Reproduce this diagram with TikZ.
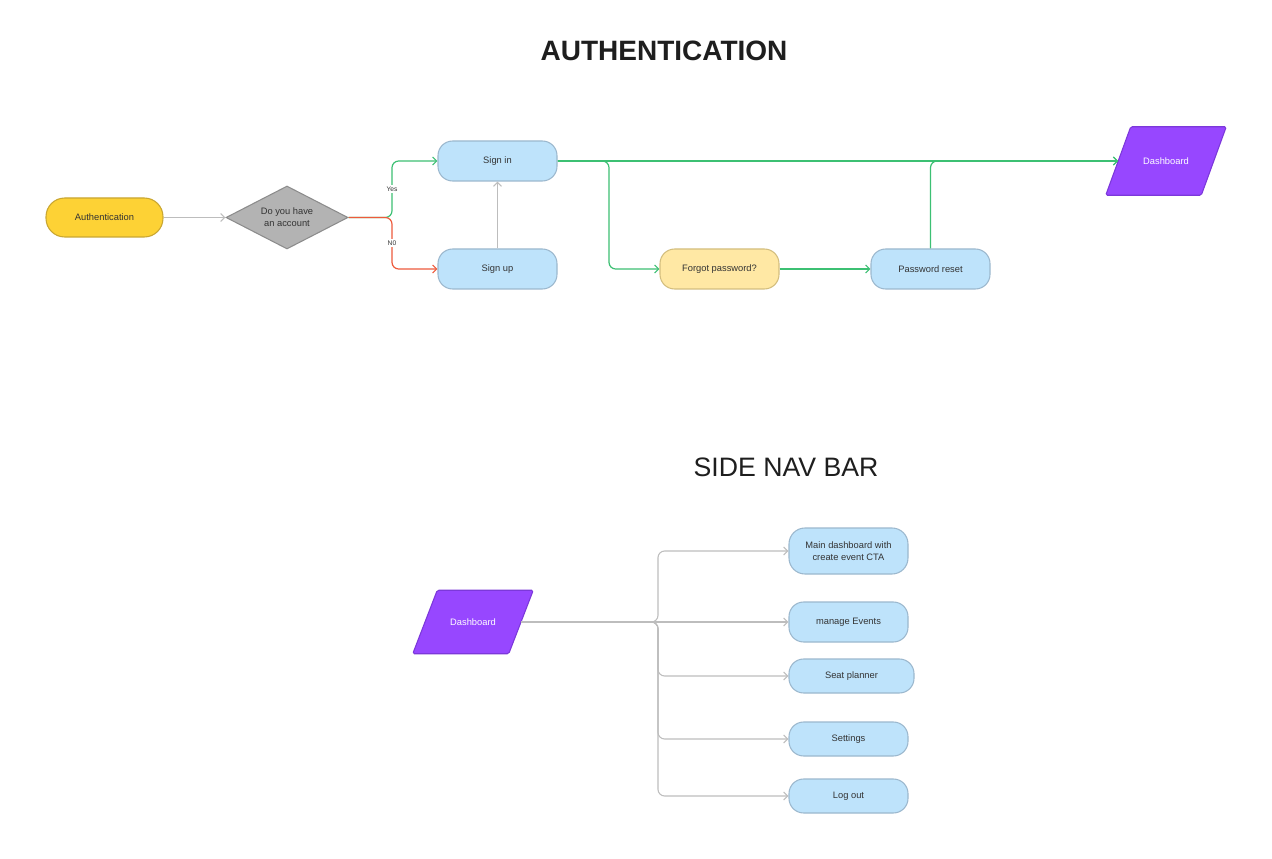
\documentclass[tikz,border=0pt]{standalone}
\usepackage{fontspec}
\setmainfont{Liberation Sans}
\usetikzlibrary{arrows.meta,shapes.geometric,calc}
\definecolor{authY}{HTML}{FDD235}
\definecolor{authYb}{HTML}{C9A631}
\definecolor{diaF}{HTML}{B3B3B3}
\definecolor{diaB}{HTML}{8C8C8C}
\definecolor{blueF}{HTML}{BEE3FB}
\definecolor{blueB}{HTML}{9CB8CE}
\definecolor{fpY}{HTML}{FFE8A4}
\definecolor{fpYb}{HTML}{D3BE7E}
\definecolor{purp}{HTML}{9747FF}
\definecolor{purpB}{HTML}{7C38DA}
\definecolor{lineG}{HTML}{3CC073}
\definecolor{lineR}{HTML}{EE5A3C}
\definecolor{lineGr}{HTML}{BDBDBD}
\definecolor{txt}{HTML}{333333}
\definecolor{ttl}{HTML}{1E1E1E}
\begin{document}
\begin{tikzpicture}[x=0.75pt,y=-0.75pt,
  >={Straight Barb[length=3pt,width=6pt]},
  box/.style={rectangle, rounded corners=11pt, draw=blueB, fill=blueF, line width=0.8pt,
    minimum width=89.25pt, minimum height=30pt, inner sep=2pt, text=txt, align=center,
    font=\fontsize{7}{9}\selectfont},
  pill/.style={box, rounded corners=14pt, fill=authY, draw=authYb},
  ask/.style={diamond, aspect=2, draw=diaB, fill=diaF, line width=0.8pt, inner sep=0pt,
    minimum width=91.5pt, minimum height=47.25pt, text=txt, align=center,
    font=\fontsize{7}{9}\selectfont},
  parabox/.style={rectangle, inner sep=0pt, minimum width=71.25pt, minimum height=51pt},
  parafill/.style={fill=purp, draw=purpB, line width=0.8pt, rounded corners=1.2pt},
  paratext/.style={text=white, font=\fontsize{7}{9}\selectfont},
  gline/.style={draw=lineG, line width=0.9pt, rounded corners=5pt},
  rline/.style={draw=lineR, line width=0.9pt, rounded corners=5pt},
  grline/.style={draw=lineGr, line width=0.8pt, rounded corners=5pt},
  lbl/.style={fill=white, inner sep=1pt, text=txt, font=\fontsize{5}{6}\selectfont},
]
\useasboundingbox[fill=white] (0,0) rectangle (1272,859);

% titles
\node[font=\bfseries\fontsize{21}{25}\selectfont, text=ttl] (t1) at (664,51) {AUTHENTICATION};
\node[font=\fontsize{20}{24}\selectfont, text=ttl] (t2) at (786,467) {SIDE NAV BAR};

% authentication flow
\node[pill, minimum width=87.75pt, minimum height=29.25pt] (auth) at (104.5,217.5) {Authentication};
\node[ask] (q) at (287,217.5) {Do you have\\an account};
\node[box] (signin) at (497.5,161) {Sign in};
\node[box] (signup) at (497.5,269) {Sign up};
\node[box, fill=fpY, draw=fpYb] (forgot) at (719.5,269) {Forgot password?};
\node[box] (reset) at (930.5,269) {Password reset};

\path node[parabox] (dash1) at (1166,161) {};
\draw[parafill] ($(dash1.north west)+(12.5,0)$) -- ($(dash1.north east)+(12.5,0)$)
  -- ($(dash1.south east)+(-12.5,0)$) -- ($(dash1.south west)+(-12.5,0)$) -- cycle;
\node[paratext] (dash1t) at (dash1) {Dashboard};

\coordinate (split) at (392,217.5);
\coordinate (fork) at (609,161);

\draw[grline,->] (auth.east) -- (q.west);
\draw[gline,->] (q.east) -- (split) |- (signin.west);
\draw[rline,->] (q.east) -- (split) |- (signup.west);
\node[lbl] (yes) at (392,189) {Yes};
\node[lbl] (no) at (392,243) {N0};
\draw[grline,->] (signup.north) -- (signin.south);
\draw[gline,->] (signin.east) -- (dash1.west);
\draw[gline,->] (signin.east) -- (fork) |- (forgot.west);
\draw[gline,->] (forgot.east) -- (reset.west);
\draw[gline,->] (reset.north) |- (dash1.west);

% side nav bar
\path node[parabox, minimum width=71.6pt, minimum height=47.25pt] (dash2) at (473,622) {};
\draw[parafill] ($(dash2.north west)+(12.25,0)$) -- ($(dash2.north east)+(12.25,0)$)
  -- ($(dash2.south east)+(-12.25,0)$) -- ($(dash2.south west)+(-12.25,0)$) -- cycle;
\node[paratext] (dash2t) at (dash2) {Dashboard};

\node[box, minimum height=34.5pt, rounded corners=12pt] (mdash) at (848.5,551) {Main dashboard with\\create event CTA};
\node[box] (mev) at (848.5,622) {manage Events};
\node[box, minimum width=93.75pt, minimum height=25.5pt] (seat) at (851.5,676) {Seat planner};
\node[box, minimum height=25.5pt] (sett) at (848.5,739) {Settings};
\node[box, minimum height=25.5pt] (logout) at (848.5,796) {Log out};

\coordinate (hub) at (658,622);
\draw[grline,->] (dash2.east) -- (mev.west);
\foreach \t in {mdash,seat,sett,logout}{
  \draw[grline,->] (dash2.east) -- (hub) |- (\t.west);
}
\end{tikzpicture}
\end{document}
